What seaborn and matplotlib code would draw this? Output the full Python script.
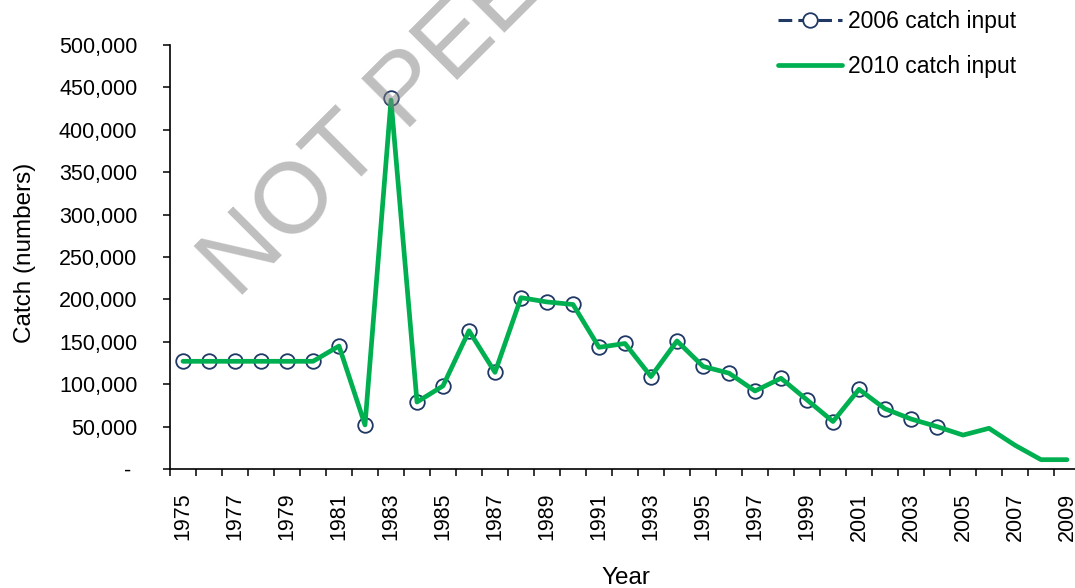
import numpy as np
import pandas as pd
import matplotlib
matplotlib.use("Agg")
import matplotlib.pyplot as plt
import seaborn as sns
from matplotlib.ticker import FixedLocator, FuncFormatter

# Catch series (numbers of fish) by year
years = list(range(1975, 2010))
years_2006 = list(range(1975, 2005))
catch_2006 = [127000, 127000, 127000, 127000, 127000, 127000, 145000, 52000,
              437000, 79000, 98000, 163000, 114000, 202000, 197000, 194000,
              143500, 148000, 109000, 151000, 121000, 113000, 92000, 107000,
              81500, 56000, 94000, 71000, 59000, 50000]
catch_2010 = [127000, 127000, 127000, 127000, 127000, 127000, 145000, 52000,
              435000, 79000, 98000, 163000, 114000, 202000, 197000, 194000,
              143500, 148000, 109000, 151000, 121000, 113000, 92000, 107000,
              81500, 56000, 94000, 71000, 59000, 50000, 40000, 48000,
              28000, 11000, 11000]
label_2006 = "2006 catch input"
label_2010 = "2010 catch input"
y_ticks = list(range(0, 500001, 50000))

df06 = pd.DataFrame({"Year": years_2006, "Catch": catch_2006})
df10 = pd.DataFrame({"Year": years, "Catch": catch_2010})

sns.set_theme(style="white")
plt.rcParams["font.family"] = ["Liberation Sans", "DejaVu Sans"]
for key in ("text.color", "axes.labelcolor", "xtick.color", "ytick.color"):
    plt.rcParams[key] = "black"

navy = "#1F3864"
green = "#00B050"

fig = plt.figure(figsize=(10.75, 5.88), dpi=100)
ax = fig.add_axes([170 / 1075, 1 - 469 / 588, 910 / 1075, 424 / 588])

sns.lineplot(data=df06, x="Year", y="Catch", ax=ax, color=navy,
             linestyle=(0, (4.5, 2)), linewidth=2.2, marker="o", markersize=10.5,
             markerfacecolor="white", markeredgecolor=navy,
             markeredgewidth=1.3, label=label_2006, zorder=2)
sns.lineplot(data=df10, x="Year", y="Catch", ax=ax, color=green,
             linewidth=3.4, label=label_2010, zorder=3)

ax.set_xlim(years[0] - 0.5, years[-1] + 0.5)
ax.set_ylim(0, 500000)

# Year boundaries carry the tick marks, every second year carries a label
ax.xaxis.set_minor_locator(FixedLocator(np.arange(years[0] - 0.5, years[-1] + 1, 1)))
ax.xaxis.set_major_locator(FixedLocator(years[::2]))
ax.set_xticklabels([str(y) for y in years[::2]], rotation=90, fontsize=15.5)
ax.tick_params(axis="x", which="major", length=0, pad=17)
ax.tick_params(axis="x", which="minor", bottom=True, length=5, width=1.1,
               color="black", direction="out")

ax.yaxis.set_major_locator(FixedLocator(y_ticks))
ax.yaxis.set_major_formatter(FuncFormatter(
    lambda v, _: "- " if v == 0 else f"{v:,.0f}"))
ax.tick_params(axis="y", left=True, length=5, width=1.1, color="black",
               direction="out", pad=18.5, labelsize=15.5)

for side in ("top", "right"):
    ax.spines[side].set_visible(False)
for side in ("left", "bottom"):
    ax.spines[side].set_color("black")
    ax.spines[side].set_linewidth(1.2)
ax.grid(False)

ax.set_xlabel("Year", fontsize=17.5)
ax.set_ylabel("Catch (numbers)", fontsize=17.5)
ax.xaxis.set_label_coords(0.501, -0.232)
ax.yaxis.set_label_coords(-0.1473, 0.509)

leg = ax.legend(loc="upper left", bbox_to_anchor=(778 / 1075, 1 - 10 / 588),
                bbox_transform=fig.transFigure, frameon=False, fontsize=16.5,
                handlelength=2.8, handletextpad=0.27, labelspacing=0.98,
                borderpad=0, borderaxespad=0)

# Watermark across the plot
fig.text(237 / 1075, 1 - 300 / 588, "NOT PEER REVIEWED", rotation=45,
         rotation_mode="anchor", ha="left", va="baseline", fontsize=72,
         color="#808080", alpha=0.5, zorder=10)

fig.savefig("out.png", dpi=100)
